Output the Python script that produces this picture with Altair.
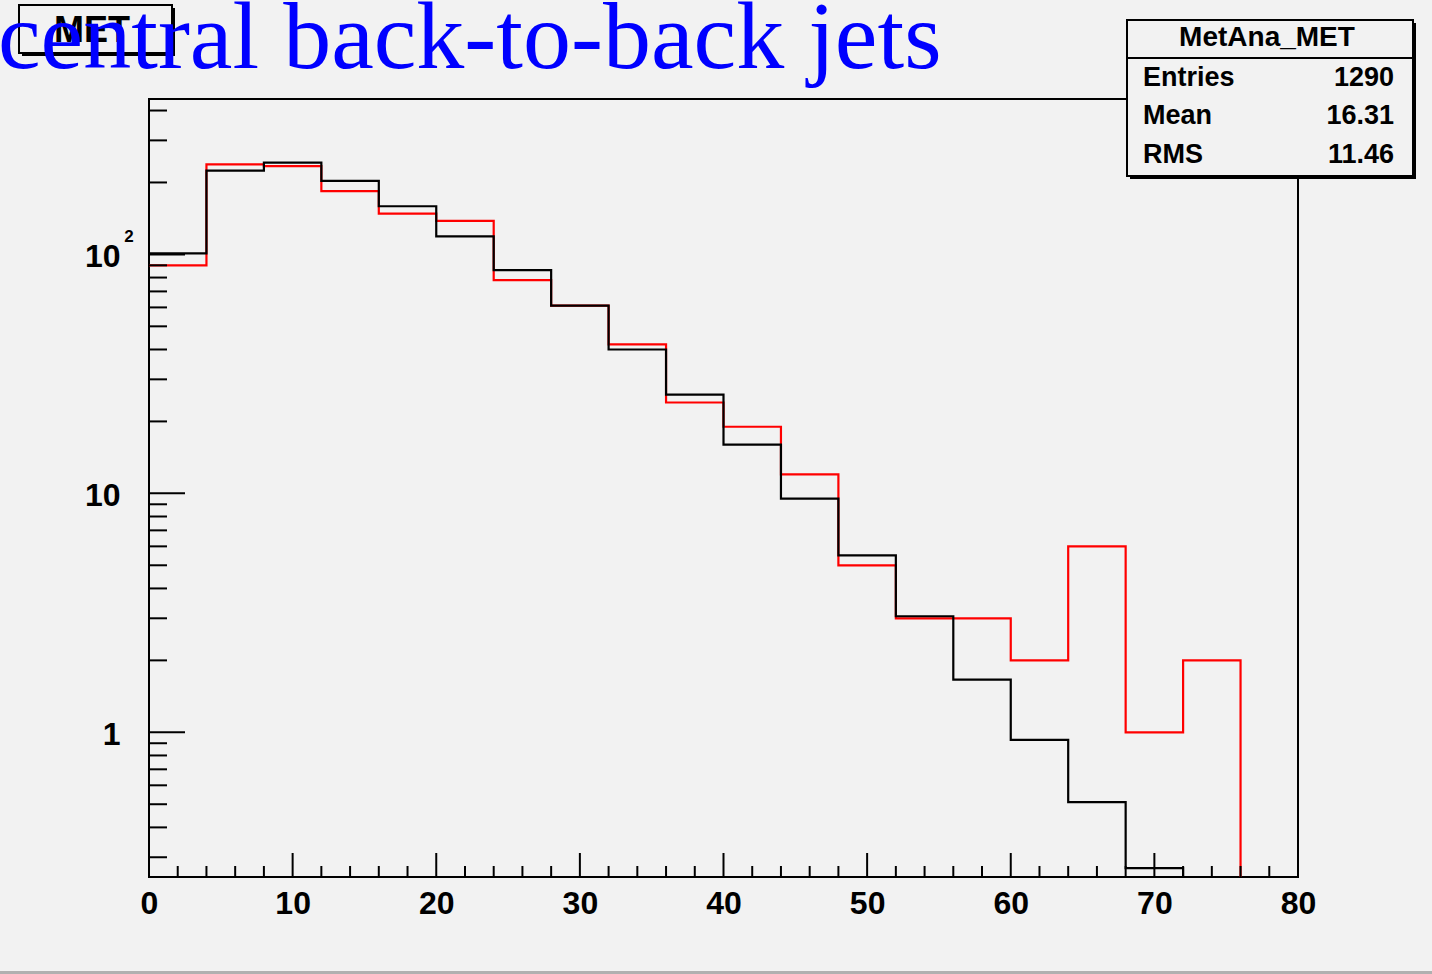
import altair as alt
import pandas as pd

# ---------------- data ----------------
bin_lo = [0, 4, 8, 12, 16, 20, 24, 28, 32, 36, 40, 44, 48, 52, 56, 60, 64, 68, 72, 76]
bin_last_hi = 80
black_counts = [101, 224, 242, 203, 159, 119, 86, 61, 40, 25.9, 16, 9.5, 5.5, 3.06,
                1.66, 0.93, 0.51, 0.27, 0, 0]
red_counts = [90, 238, 234, 184, 148, 138, 78, 61, 42, 24, 19, 12, 5, 3, 3, 2, 6, 1, 2, 0]

x_major = [0, 10, 20, 30, 40, 50, 60, 70, 80]
x_minor = [2, 4, 6, 8, 12, 14, 16, 18, 22, 24, 26, 28, 32, 34, 36, 38, 42, 44, 46, 48,
           52, 54, 56, 58, 62, 64, 66, 68, 72, 74, 76, 78]
y_major = [1, 10, 100]
y_minor = [0.3, 0.4, 0.5, 0.6, 0.7, 0.8, 0.9, 2, 3, 4, 5, 6, 7, 8, 9,
           20, 30, 40, 50, 60, 70, 80, 90, 200, 300, 400]

title_text = "central back-to-back jets"
pad_label = "MET"
stats_title = "MetAna_MET"
stats_names = ["Entries", "Mean", "RMS"]
stats_values = ["1290", "16.31", "11.46"]

# ---------------- layout ----------------
W, H = 1149, 778
BG = "#f2f2f2"
FONT = "Liberation Sans"

xscale = alt.Scale(domain=[0, 80], nice=False, zero=False)
yscale = alt.Scale(type="log", domain=[0.248, 447], nice=False)

xaxis = alt.Axis(values=x_major, ticks=False, domain=False, grid=False, title=None,
                 labelFont=FONT, labelFontWeight="bold", labelFontSize=32,
                 labelColor="black", labelPadding=11, labelFlush=False,
                 labelOverlap=False, labelBaseline="top", format="d")
yaxis = alt.Axis(values=y_major, ticks=False, domain=False, grid=False, title=None,
                 labelFont=FONT, labelFontWeight="bold", labelFontSize=32,
                 labelColor="black", labelPadding=29, labelFlush=False,
                 labelOverlap=False, labelBaseline="middle", labelOffset=2,
                 labelExpr="datum.value >= 10 ? '10' : '1'")


def steps(values):
    return pd.DataFrame({"x": bin_lo + [bin_last_hi], "v": values + [values[-1]]})


def hist_layer(values, color):
    return (
        alt.Chart(steps(values))
        .transform_calculate(vc="max(datum.v, 0.1)")
        .mark_line(interpolate="step-after", color=color, strokeWidth=2.2, clip=True)
        .encode(x=alt.X("x:Q", scale=xscale, axis=xaxis),
                y=alt.Y("vc:Q", scale=yscale, axis=yaxis))
    )


red = hist_layer(red_counts, "#ff0000")
black = hist_layer(black_counts, "#000000")

xmaj = alt.Chart(pd.DataFrame({"x": x_major})).mark_rule(color="black", strokeWidth=2).encode(
    x=alt.X("x:Q", scale=xscale, axis=xaxis), y=alt.value(H), y2=alt.value(H - 24))
xmin = alt.Chart(pd.DataFrame({"x": x_minor})).mark_rule(color="black", strokeWidth=2).encode(
    x=alt.X("x:Q", scale=xscale, axis=xaxis), y=alt.value(H), y2=alt.value(H - 11))
ymaj = alt.Chart(pd.DataFrame({"vc": y_major})).mark_rule(color="black", strokeWidth=2).encode(
    y=alt.Y("vc:Q", scale=yscale, axis=yaxis), x=alt.value(0), x2=alt.value(36))
ymin = alt.Chart(pd.DataFrame({"vc": y_minor})).mark_rule(color="black", strokeWidth=2).encode(
    y=alt.Y("vc:Q", scale=yscale, axis=yaxis), x=alt.value(0), x2=alt.value(18))

sup = alt.Chart(pd.DataFrame({"vc": [100], "t": ["2"]})).mark_text(
    font=FONT, fontWeight="bold", fontSize=17, color="black", align="center",
    baseline="middle", dy=-17).encode(
    y=alt.Y("vc:Q", scale=yscale, axis=yaxis), x=alt.value(-20), text="t:N")


def rect(x1, x2, y1, y2, fill, stroke=None, sw=0):
    kw = dict(fill=fill)
    if stroke:
        kw.update(stroke=stroke, strokeWidth=sw)
    return alt.Chart(pd.DataFrame({"a": [0]})).mark_rect(**kw).encode(
        x=alt.value(x1), x2=alt.value(x2), y=alt.value(y1), y2=alt.value(y2))


def text(t, x, y, size, align="left", font=FONT, weight="bold", color="black",
         baseline="middle"):
    return alt.Chart(pd.DataFrame({"t": [t]})).mark_text(
        font=font, fontSize=size, fontWeight=weight, color=color, align=align,
        baseline=baseline).encode(text="t:N", x=alt.value(x), y=alt.value(y))


OX, OY = 149, 99  # plot origin on the page

# MET pave (top-left)
met_shadow = rect(22 - OX, 175 - OX, 8 - OY, 56 - OY, "black")
met_box = rect(19 - OX, 172 - OX, 5 - OY, 53 - OY, BG, "black", 2)
met_text = text(pad_label, 92 - OX, 31 - OY, 36, align="center")

# stats box
st_shadow = rect(1130 - OX, 1416 - OX, 23 - OY, 179 - OY, "black")
st_box = rect(1127 - OX, 1413 - OX, 20 - OY, 176 - OY, BG, "black", 2)
st_sep = alt.Chart(pd.DataFrame({"a": [0]})).mark_rule(color="black", strokeWidth=2).encode(
    x=alt.value(1127 - OX), x2=alt.value(1413 - OX), y=alt.value(58 - OY))
st_title = text(stats_title, 1267 - OX, 38 - OY, 28, align="center")
row_y = [78, 116, 155]
st_rows = []
for name, val, yy in zip(stats_names, stats_values, row_y):
    st_rows.append(text(name, 1143 - OX, yy - OY, 27, align="left"))
    st_rows.append(text(val, 1394 - OX, yy - OY, 27, align="right"))

# big blue title
title = text(title_text, -2 - OX, 68 - OY, 96, align="left", font="Liberation Serif",
             weight="normal", color="#0000ff", baseline="alphabetic")

# bottom edge of the canvas
bottom_edge = rect(0 - OX, 1432 - OX, 971 - OY, 974 - OY, "#b0b0b0")

chart = alt.layer(
    red, black, xmaj, xmin, ymaj, ymin, sup,
    met_shadow, met_box, met_text,
    st_shadow, st_box, st_sep, st_title, *st_rows,
    title, bottom_edge,
).properties(
    width=W, height=H,
    autosize=alt.AutoSizeParams(type="none"),
    padding={"left": OX, "top": OY, "right": 1432 - OX - W, "bottom": 974 - OY - H},
).configure(background=BG).configure_view(stroke="black", strokeWidth=2)

chart.save("out.html", embed_options={"renderer": "svg", "actions": False})
